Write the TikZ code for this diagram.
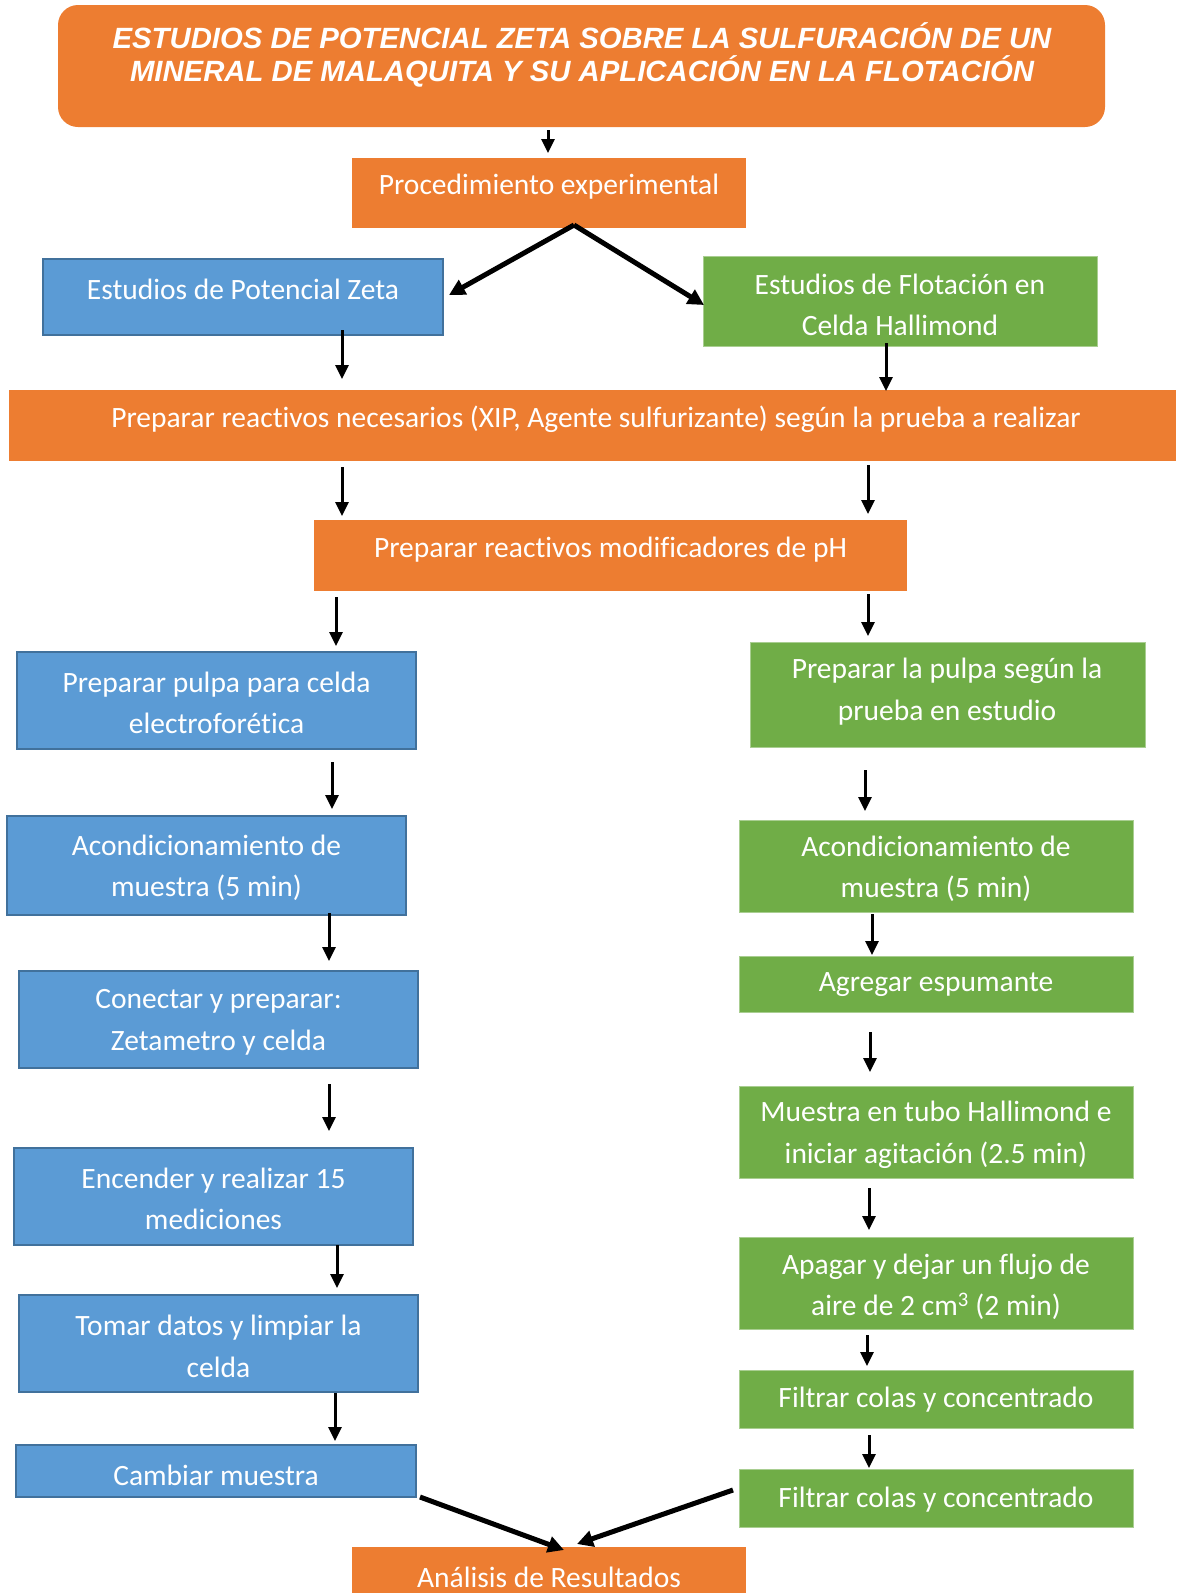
\documentclass[tikz,border=0pt]{standalone}
\usepackage{fontspec}
\setmainfont{Carlito}[Ligatures=CommonOff]
\newfontfamily\titlefont{Liberation Sans}
\usetikzlibrary{arrows.meta,calc}
\definecolor{orng}{HTML}{ED7D31}
\definecolor{blu}{HTML}{5B9BD5}
\definecolor{bluedge}{HTML}{41719C}
\definecolor{grn}{HTML}{70AD47}
\newcommand\bx[6]{\node[#2, inner sep=0pt, outer sep=0pt, minimum width={#5-#3}, minimum height={#6-#4}] (#1) at ({(#3+#5)/2},{(#4+#6)/2}) {};}
\newcommand\tx[3]{\node[txt] (#1t) at (#1.center |- 0,#2) {#3};}
\newcommand\varr[5]{\draw[arr] ($(#1.south -| #3,0)+(0,#4)$) -- ($(#2.north -| #3,0)+(0,#5)$);}
\begin{document}
\begin{tikzpicture}[x=1pt,y=-1pt,
  obox/.style={fill=orng, draw=none},
  tbox/.style={fill=orng, draw=none, rounded corners=20pt},
  bbox/.style={fill=blu, draw=bluedge, line width=2pt},
  gbox/.style={fill=grn, draw=grn!60!white, line width=1pt},
  txt/.style={text=white, font=\fontsize{29.5}{41.5}\selectfont, align=center, inner sep=0pt},
  ttxt/.style={text=white, font=\titlefont\bfseries\itshape\fontsize{29.3}{33.5}\selectfont, align=center, inner sep=0pt},
  arr/.style={-{Triangle[width=13pt,length=14pt]}, line width=3pt},
  darr/.style={-{Triangle[width=16pt,length=16pt]}, line width=5pt}]
\useasboundingbox (0,0) rectangle (1176,1593);
% boxes
\bx{TIT}{tbox}{58}{5}{1105}{127}
\bx{PROC}{obox}{352}{158}{746}{228}
\bx{EPZ}{bbox}{43}{259}{443}{335}
\bx{EFC}{gbox}{703}{256}{1097}{346}
\bx{PRN}{obox}{9}{390}{1176}{461}
\bx{PRM}{obox}{314}{520}{907}{591}
\bx{PPC}{bbox}{17}{652}{416}{749}
\bx{PPS}{gbox}{750}{642}{1145}{747}
\bx{ACB}{bbox}{7}{816}{406}{915}
\bx{ACG}{gbox}{739}{820}{1133}{912}
\bx{CON}{bbox}{19}{971}{418}{1068}
\bx{AGR}{gbox}{739}{956}{1133}{1012}
\bx{ENC}{bbox}{14}{1148}{413}{1245}
\bx{MUE}{gbox}{739}{1086}{1133}{1178}
\bx{TOM}{bbox}{19}{1295}{418}{1392}
\bx{APA}{gbox}{739}{1237}{1133}{1329}
\bx{CAM}{bbox}{16}{1445}{416}{1497}
\bx{FILA}{gbox}{739}{1370}{1133}{1428}
\bx{FILB}{gbox}{739}{1469}{1133}{1527}
\bx{ANA}{obox}{352}{1547}{746}{1605}
% texts
\node[ttxt] (TITt) at (582,55) {ESTUDIOS DE POTENCIAL ZETA SOBRE LA SULFURACIÓN DE UN\\MINERAL DE MALAQUITA Y SU APLICACIÓN EN LA FLOTACIÓN};
\tx{PROC}{187}{Procedimiento experimental}
\tx{EPZ}{289}{Estudios de Potencial Zeta}
\tx{EFC}{305}{Estudios de Flotación en\\Celda Hallimond}
\node[txt] (PRNt) at (596,419) {Preparar reactivos necesarios (XIP, Agente sulfurizante) según la prueba a realizar};
\tx{PRM}{550}{Preparar reactivos modificadores de pH}
\tx{PPC}{703}{Preparar pulpa para celda\\electroforética}
\node[txt] (PPSt) at (947,691.5) {Preparar la pulpa según la\\prueba en estudio};
\tx{ACB}{868}{Acondicionamiento de\\muestra (5 min)}
\tx{ACG}{869}{Acondicionamiento de\\muestra (5 min)}
\tx{CON}{1022.5}{Conectar y preparar:\\Zetametro y celda}
\tx{AGR}{985}{Agregar espumante}
\tx{ENC}{1199}{Encender y realizar 15\\mediciones}
\tx{MUE}{1135}{Muestra en tubo Hallimond e\\iniciar agitación (2.5 min)}
\tx{TOM}{1346.5}{Tomar datos y limpiar la\\celda}
\tx{APA}{1287}{Apagar y dejar un flujo de\\aire de 2 cm\textsuperscript{3} (2 min)}
\tx{CAM}{1475}{Cambiar muestra}
\tx{FILA}{1400}{Filtrar colas y concentrado}
\tx{FILB}{1500}{Filtrar colas y concentrado}
\tx{ANA}{1577}{Análisis de Resultados}
% vertical arrows
\varr{TIT}{PROC}{548}{3}{-5}
\varr{EPZ}{PRN}{342}{-5}{-11}
\varr{EFC}{PRN}{886}{-3}{1}
\varr{PRN}{PRM}{342}{6}{-4}
\varr{PRN}{PRM}{868}{4}{-6}
\varr{PRM}{PPC}{336}{6}{-6}
\varr{PRM}{PPS}{868}{3}{-6}
\varr{PPC}{ACB}{332}{13}{-7}
\varr{PPS}{ACG}{865}{23}{-9}
\varr{ACB}{CON}{329}{-2}{-10}
\varr{ACG}{AGR}{872}{2}{-1}
\varr{CON}{ENC}{329}{16}{-17}
\varr{AGR}{MUE}{870}{20}{-14}
\varr{ENC}{TOM}{337}{0}{-7}
\varr{MUE}{APA}{869}{10}{-7}
\varr{TOM}{CAM}{335}{1}{-4}
\varr{APA}{FILA}{867}{6}{-4}
\varr{FILA}{FILB}{869}{7}{-1}
% diagonal arrows
\coordinate (apex) at ($(PROC.south -| 574,0)+(0,-3)$);
\draw[darr] (apex) -- ($(EPZ.east)+(6,-2)$);
\draw[darr] (apex) -- ($(EFC.west)+(1,4)$);
\draw[darr] ($(CAM.south east)+(4,0)$) -- ($(ANA.north)+(15,3)$);
\draw[darr] ($(FILB.west)+(-6,-8)$) -- ($(ANA.north)+(28,-3)$);
\end{tikzpicture}
\end{document}
